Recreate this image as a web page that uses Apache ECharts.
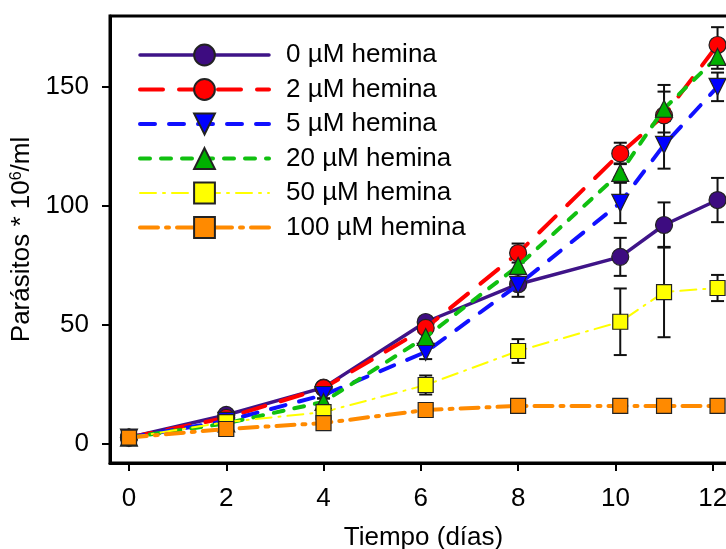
<!DOCTYPE html>
<html>
<head>
<meta charset="utf-8">
<script src="https://cdn.jsdelivr.net/npm/echarts@6/dist/echarts.min.js"></script>
<style>
  html, body { margin: 0; padding: 0; background: #fff; }
  #chart { width: 726px; height: 549px; }
</style>
</head>
<body>
<div id="chart"></div>
<script>
// dias de cultivo
var xDays = [0, 2, 4, 6.1, 8, 10.1, 11, 12.1];
var xTicks = [0, 2, 4, 6, 8, 10, 12];
var yTicks = [0, 50, 100, 150];

var names = ['0 µM hemina', '2 µM hemina', '5 µM hemina', '20 µM hemina', '50 µM hemina', '100 µM hemina'];

// parasitos * 10^6/ml
var hem0 = [2.5, 12.0, 23.5, 51.1, 67.0, 78.5, 91.9, 102.4];
var hem2 = [2.5, 10.8, 23.3, 48.6, 80.1, 122.0, 138.0, 167.6];
var hem5 = [2.5, 9.5, 20.4, 38.5, 66.7, 101.2, 125.6, 150.0];
var hem20 = [2.5, 8.5, 17.5, 44.8, 74.7, 113.8, 140.8, 162.6];
var hem50 = [2.5, 9.0, 13.2, 24.6, 38.9, 51.2, 63.7, 65.4];
var hem100 = [2.5, 6.1, 8.6, 14.1, 15.8, 15.8, 15.8, 15.8];

// desviacion (+/-)
var err0 = [0.5, 1.0, 1.5, 2.0, 2.0, 8.0, 9.5, 9.3];
var err2 = [0.5, 1.0, 1.5, 2.0, 4.0, 4.5, 10.0, 7.5];
var err5 = [0.5, 1.0, 1.5, 3.0, 5.0, 8.5, 10.0, 6.0];
var err20 = [0.5, 1.0, 1.5, 2.0, 3.0, 4.0, 10.0, 5.0];
var err50 = [0.5, 1.0, 1.5, 4.0, 5.0, 14.0, 19.0, 5.5];
var err100 = [0.5, 0.5, 1.0, 1.0, 1.0, 1.0, 1.0, 1.0];

var values = [hem0, hem2, hem5, hem20, hem50, hem100];
var errors = [err0, err2, err5, err20, err50, err100];

var lineColors = ['#3F1488', '#FF0000', '#1010FF', '#10C010', '#FFFF00', '#FF8A00'];
var fillColors = ['#3D0C80', '#FF0000', '#0000FF', '#00B000', '#FFFF00', '#FF8A00'];
var symbols = ['circle', 'circle', 'triangle', 'triangle', 'rect', 'rect'];
var symbolRot = [0, 0, 180, 0, 0, 0];
var symbolSizes = [17, 17, 17, 17, 15, 15];
var lineWidths = [3.5, 4, 4, 4, 2, 4];
var dashes = ['solid', [23, 16], [15, 14], [10, 11], [16, 7, 2, 7], [18, 8, 3, 8]];

var font = 'Liberation Sans, Arial, sans-serif';

var series = [];
var errData = [];
values.forEach(function (vals, i) {
  series.push({
    name: names[i],
    type: 'line',
    data: xDays.map(function (x, j) { return [x, vals[j]]; }),
    symbol: symbols[i],
    symbolRotate: symbolRot[i],
    symbolSize: symbolSizes[i],
    showAllSymbol: true,
    lineStyle: { color: lineColors[i], width: lineWidths[i], type: dashes[i], cap: 'round' },
    itemStyle: { color: fillColors[i], borderColor: '#222', borderWidth: 1.2 },
    z: 3 + i,
    animation: false
  });
  xDays.forEach(function (x, j) {
    errData.push([x, vals[j] - errors[i][j], vals[j] + errors[i][j]]);
  });
});

series.unshift({
  name: 'error',
  type: 'custom',
  data: errData,
  z: 2,
  animation: false,
  renderItem: function (params, api) {
    var x = api.value(0);
    var lo = api.coord([x, api.value(1)]);
    var hi = api.coord([x, api.value(2)]);
    var w = 6.5;
    var st = { stroke: '#111', lineWidth: 2 };
    return {
      type: 'group',
      children: [
        { type: 'line', shape: { x1: hi[0], y1: hi[1], x2: lo[0], y2: lo[1] }, style: st },
        { type: 'line', shape: { x1: hi[0] - w, y1: hi[1], x2: hi[0] + w, y2: hi[1] }, style: st },
        { type: 'line', shape: { x1: lo[0] - w, y1: lo[1], x2: lo[0] + w, y2: lo[1] }, style: st }
      ]
    };
  }
});

var chart = echarts.init(document.getElementById('chart'));
chart.setOption({
  backgroundColor: '#fff',
  animation: false,
  grid: {
    left: 110, top: 16, right: -11, bottom: 86,
    outerBoundsMode: 'none',
    show: true, borderColor: '#000', borderWidth: 3
  },
  legend: {
    data: names,
    orient: 'vertical',
    left: 133,
    top: 37,
    itemWidth: 129,
    itemHeight: 26,
    itemGap: 8.5,
    lineStyle: { width: 'inherit' },
    textStyle: { fontFamily: font, fontSize: 26, lineHeight: 26, color: '#000', padding: [0, 0, 0, 12] }
  },
  xAxis: {
    type: 'value',
    min: -0.39,
    max: 12.5,
    name: 'Tiempo (días)',
    nameLocation: 'middle',
    nameGap: 62,
    nameTextStyle: { fontFamily: font, fontSize: 26, color: '#000' },
    splitLine: { show: false },
    axisLine: { onZero: false, lineStyle: { color: '#000', width: 3 } },
    axisTick: { customValues: xTicks, length: 8, lineStyle: { color: '#000', width: 2 } },
    axisLabel: { customValues: xTicks, margin: 23, fontFamily: font, fontSize: 26, color: '#000' }
  },
  yAxis: {
    type: 'value',
    min: -8.2,
    max: 179.8,
    name: 'Parásitos * 10{sup|6}/ml',
    nameLocation: 'middle',
    nameGap: 68,
    nameTextStyle: {
      fontFamily: font, fontSize: 26, color: '#000',
      rich: { sup: { fontFamily: font, fontSize: 16, color: '#000', verticalAlign: 'top', padding: [0, 0, 10, 0] } }
    },
    splitLine: { show: false },
    axisLine: { onZero: false, lineStyle: { color: '#000', width: 3 } },
    axisTick: { customValues: yTicks, length: 8, lineStyle: { color: '#000', width: 2 } },
    axisLabel: { customValues: yTicks, margin: 21, fontFamily: font, fontSize: 26, color: '#000' }
  },
  series: series
});
</script>
</body>
</html>
